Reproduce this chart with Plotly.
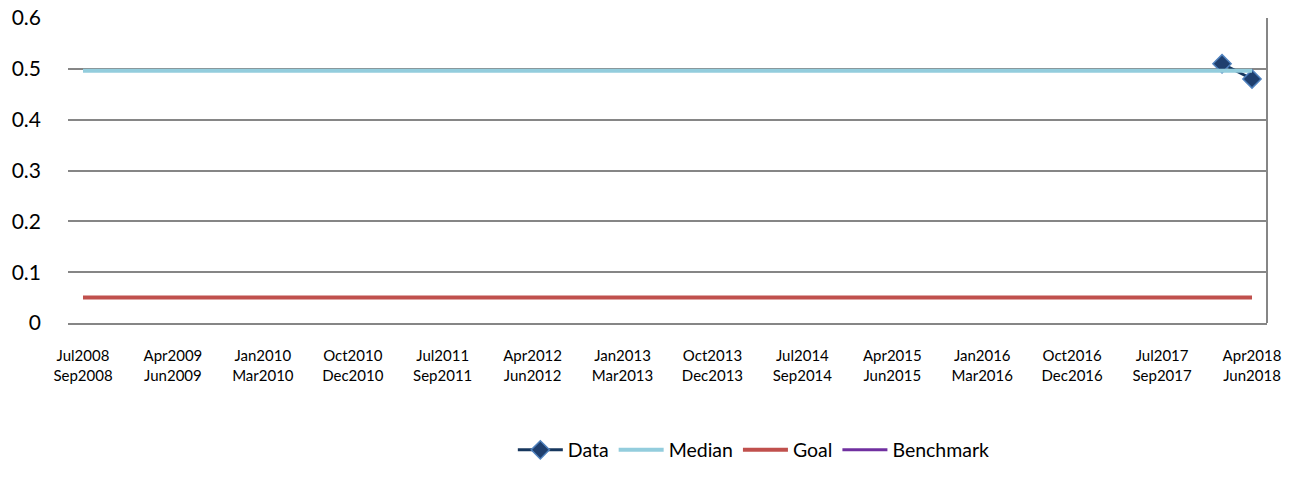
import plotly.graph_objects as go

quarters = [
    "Jul2008<br>Sep2008", "Oct2008<br>Dec2008", "Jan2009<br>Mar2009", "Apr2009<br>Jun2009",
    "Jul2009<br>Sep2009", "Oct2009<br>Dec2009", "Jan2010<br>Mar2010", "Apr2010<br>Jun2010",
    "Jul2010<br>Sep2010", "Oct2010<br>Dec2010", "Jan2011<br>Mar2011", "Apr2011<br>Jun2011",
    "Jul2011<br>Sep2011", "Oct2011<br>Dec2011", "Jan2012<br>Mar2012", "Apr2012<br>Jun2012",
    "Jul2012<br>Sep2012", "Oct2012<br>Dec2012", "Jan2013<br>Mar2013", "Apr2013<br>Jun2013",
    "Jul2013<br>Sep2013", "Oct2013<br>Dec2013", "Jan2014<br>Mar2014", "Apr2014<br>Jun2014",
    "Jul2014<br>Sep2014", "Oct2014<br>Dec2014", "Jan2015<br>Mar2015", "Apr2015<br>Jun2015",
    "Jul2015<br>Sep2015", "Oct2015<br>Dec2015", "Jan2016<br>Mar2016", "Apr2016<br>Jun2016",
    "Jul2016<br>Sep2016", "Oct2016<br>Dec2016", "Jan2017<br>Mar2017", "Apr2017<br>Jun2017",
    "Jul2017<br>Sep2017", "Oct2017<br>Dec2017", "Jan2018<br>Mar2018", "Apr2018<br>Jun2018",
]
tick_labels = [
    "Jul2008<br>Sep2008", "Apr2009<br>Jun2009", "Jan2010<br>Mar2010", "Oct2010<br>Dec2010",
    "Jul2011<br>Sep2011", "Apr2012<br>Jun2012", "Jan2013<br>Mar2013", "Oct2013<br>Dec2013",
    "Jul2014<br>Sep2014", "Apr2015<br>Jun2015", "Jan2016<br>Mar2016", "Oct2016<br>Dec2016",
    "Jul2017<br>Sep2017", "Apr2018<br>Jun2018",
]
y_tick_values = [0, 0.1, 0.2, 0.3, 0.4, 0.5, 0.6]
y_tick_labels = ["0", "0.1", "0.2", "0.3", "0.4", "0.5", "0.6"]
data_values = [None] * 38 + [0.51, 0.48]
median_values = [0.496] * 40
goal_values = [0.05] * 40
benchmark_values = [None] * 40

FONT = "Lato"

fig = go.Figure()
fig.add_trace(go.Scatter(
    x=quarters, y=data_values, name="Data", mode="lines+markers",
    line=dict(color="#17375E", width=3),
    marker=dict(symbol="diamond", size=14, color="#1F3F6E",
                line=dict(color="#4F81BD", width=1.5)),
))
fig.add_trace(go.Scatter(
    x=quarters, y=median_values, name="Median", mode="lines",
    line=dict(color="#93CDDD", width=4),
))
fig.add_trace(go.Scatter(
    x=quarters, y=goal_values, name="Goal", mode="lines",
    line=dict(color="#C0504D", width=4),
))
fig.add_trace(go.Scatter(
    x=quarters, y=benchmark_values, name="Benchmark", mode="lines",
    line=dict(color="#7030A0", width=3), showlegend=True,
))

fig.update_layout(
    width=1299, height=490,
    margin=dict(l=68, r=32, t=18, b=167, autoexpand=False),
    paper_bgcolor="white", plot_bgcolor="white",
    font=dict(family=FONT, color="#000000"),
    showlegend=True,
    legend=dict(orientation="h", x=0.572, xanchor="center", y=-0.353, yanchor="top",
                font=dict(size=19.5, family=FONT), itemwidth=45,
                traceorder="normal", tracegroupgap=0),
    xaxis=dict(
        type="category", categoryorder="array", categoryarray=quarters,
        range=[-0.5, 39.5], automargin=False,
        tickmode="array", tickvals=tick_labels, ticktext=tick_labels,
        tickangle=0, tickfont=dict(size=15, family=FONT),
        showgrid=False, showline=True, linecolor="#868686", linewidth=2,
        ticks="", ticklabelstandoff=18,
    ),
    yaxis=dict(
        range=[0, 0.6], automargin=False,
        tickmode="array", tickvals=y_tick_values, ticktext=y_tick_labels,
        showgrid=True, gridcolor="#868686", gridwidth=2,
        zeroline=False, showline=False, ticks="",
        tickfont=dict(size=21, family=FONT), ticklabelstandoff=26,
    ),
    shapes=[dict(type="line", xref="paper", yref="paper", x0=1, x1=1, y0=0, y1=1,
                 line=dict(color="#868686", width=2))],
)

fig.write_html("out.html", config={"displayModeBar": False})

with open("out.html", "r", encoding="utf-8") as f:
    html = f.read()
html = html.replace("<head>", "<head><style>html,body{margin:0;padding:0;overflow:hidden;}</style>", 1)
with open("out.html", "w", encoding="utf-8") as f:
    f.write(html)
